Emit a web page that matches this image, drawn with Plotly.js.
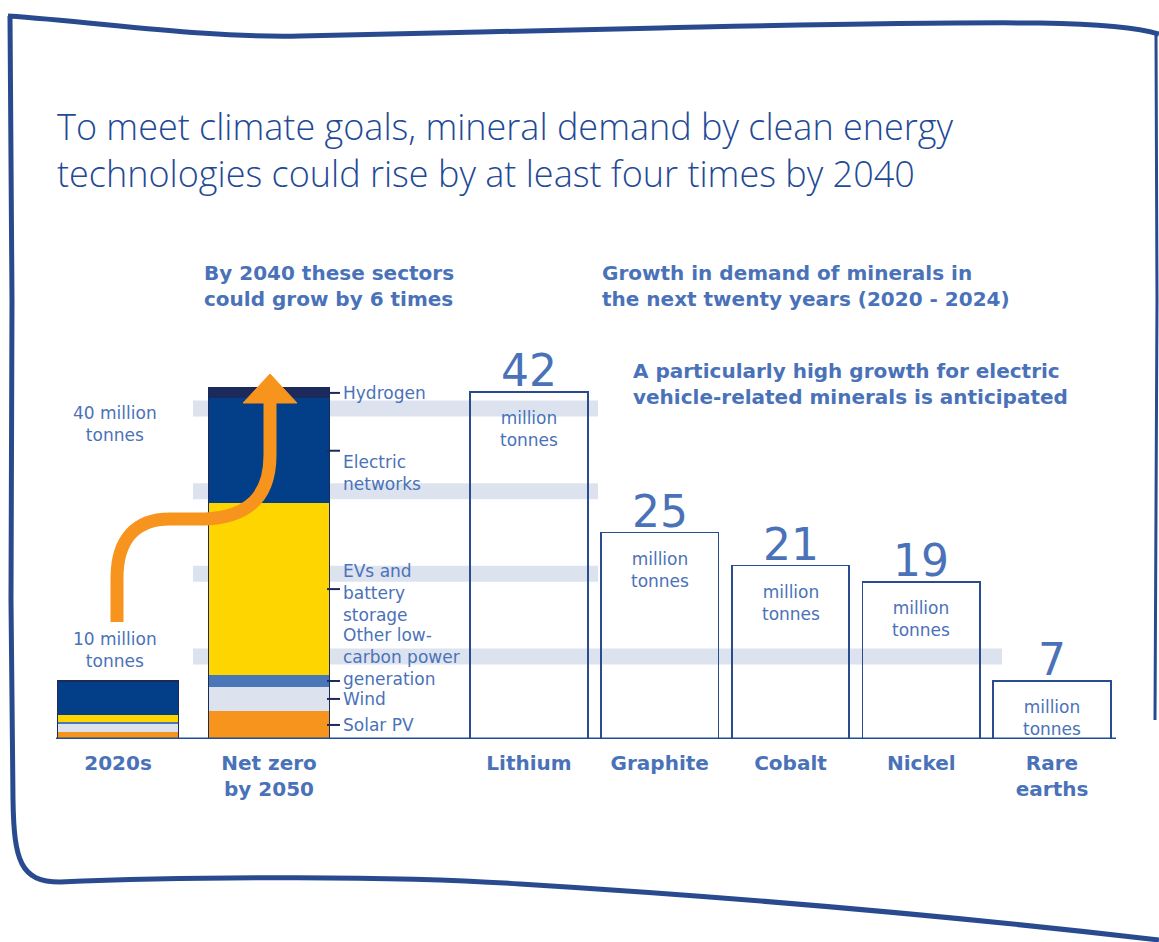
<!DOCTYPE html>
<html><head><meta charset="utf-8">
<script src="https://cdn.plot.ly/plotly-3.0.1.min.js"></script>
<style>html,body{margin:0;padding:0;background:#fff;} #chart{width:1159px;height:942px;}</style>
</head><body><div id="chart"></div>
<script>
// ---------------- DATA ----------------
const periodCats = ['2020s', 'Net zero<br>by 2050'];
const sectorNames = ['Solar PV', 'Wind', 'Other low-<br>carbon power<br>generation', 'EVs and<br>battery<br>storage', 'Electric<br>networks', 'Hydrogen'];
const sector2020s  = [0.85, 1.0, 0.25, 0.85, 4.1, 0];
const sectorNetZero = [3.4, 2.9, 1.45, 20.8, 12.7, 1.3];
const mineralCats = ['Lithium', 'Graphite', 'Cobalt', 'Nickel', 'Rare<br>earths'];
const mineralValues = [42, 25, 21, 19, 7];
const gridValues = [10, 20, 30, 40];
const gridLabels = ['10 million<br>tonnes', '', '', '40 million<br>tonnes'];
const unitLabel = 'million<br>tonnes';

// ---------------- STYLE ----------------
const W = 1159, H = 942;
const FONT = 'DejaVu Sans';
const TXT = '#4a72b8';
const NAVY = '#1b2a5a';
const sectorColors = ['#f7941d', '#dce3ef', '#4a77b8', '#ffd500', '#023f88', '#1b2a5a'];
const labelShift = [0, 0, 24, -4, -22, 0];
const gridShift = [6, 0, 0, -15];
const gridX1 = [1002, 598, 598, 598];
const px = x => x / W;
const py = y => 1 - y / H;
function pp(s) {
  const t = s.trim().split(/[\s,]+/); const out = []; let isX = true;
  for (const k of t) {
    if (/^[A-Za-z]$/.test(k)) { out.push(k); isX = true; }
    else { const v = parseFloat(k); out.push(isX ? (v / W).toFixed(5) : (1 - v / H).toFixed(5)); isX = !isX; }
  }
  return out.join(' ');
}
const PXU = 8.26; // pixels per million tonnes
const yMax = 739 / PXU;

const traces = [];
sectorNames.forEach((name, i) => {
  traces.push({
    type: 'bar', name: name.replace(/<br>/g, ' '), x: periodCats, y: [sector2020s[i], sectorNetZero[i]],
    xaxis: 'x', yaxis: 'y', width: 0.8,
    marker: { color: sectorColors[i], line: { width: 0 } },
    hoverinfo: 'skip', showlegend: false
  });
});
const totals = [sector2020s.reduce((a, b) => a + b, 0), sectorNetZero.reduce((a, b) => a + b, 0)];
traces.push({
  type: 'bar', x: periodCats, y: totals, xaxis: 'x3', yaxis: 'y', width: 0.8,
  marker: { color: 'rgba(0,0,0,0)', line: { color: NAVY, width: 1.6 } },
  hoverinfo: 'skip', showlegend: false
});
traces.push({
  type: 'bar', x: mineralCats, y: mineralValues, xaxis: 'x2', yaxis: 'y', width: 0.9,
  marker: { color: 'rgba(0,0,0,0)', line: { color: '#2b4b8f', width: 1.8 } },
  hoverinfo: 'skip', showlegend: false
});

const shapes = [];
gridValues.forEach((v, i) => {
  shapes.push({ type: 'line', layer: 'below', xref: 'paper', yref: 'y', x0: px(193), x1: px(gridX1[i]), y0: v, y1: v,
    line: { color: '#dce3ef', width: 16 } });
});
shapes.push({ type: 'line', layer: 'above', xref: 'paper', yref: 'y', x0: px(56), x1: px(1116), y0: 0, y1: 0,
  line: { color: '#1f4e96', width: 3 } });
const annotations = [];
let cum = 0;
sectorNetZero.forEach((v, i) => {
  const mid = cum + v / 2; cum += v;
  shapes.push({ type: 'line', xref: 'paper', yref: 'y', x0: px(327), x1: px(340), y0: mid, y1: mid,
    line: { color: NAVY, width: 2 } });
  annotations.push({ xref: 'paper', yref: 'y', x: px(341), y: mid, xanchor: 'left', yanchor: 'middle', yshift: labelShift[i],
    text: sectorNames[i], showarrow: false, align: 'left',
    font: { family: FONT, size: 17, color: TXT } });
});
const frameCol = '#2a4a90';
shapes.push({ type: 'path', xref: 'paper', yref: 'paper', layer: 'above',
  path: pp('M 8 16 C 100 22 200 38 300 36 C 420 34 540 30 660 28 C 800 25 920 22 1040 23 C 1100 24 1140 28 1159 34'),
  line: { color: frameCol, width: 5 } });
shapes.push({ type: 'path', xref: 'paper', yref: 'paper', layer: 'above',
  path: pp('M 10 16 L 12 300 L 11 600 L 13 800 C 14 860 20 882 60 882 C 200 876 400 876 520 884 C 700 895 900 910 1159 940'),
  line: { color: frameCol, width: 5 } });
shapes.push({ type: 'path', xref: 'paper', yref: 'paper', layer: 'above',
  path: pp('M 1156 34 L 1157 300 L 1155 720'),
  line: { color: frameCol, width: 3 } });
shapes.push({ type: 'path', xref: 'paper', yref: 'paper', layer: 'above',
  path: pp('M 117 622 L 117 578 C 117 540 135 519 170 519 L 205 519 C 250 517 270 495 270 455 L 270 400'),
  line: { color: '#f7941d', width: 13 } });
shapes.push({ type: 'path', xref: 'paper', yref: 'paper', layer: 'above',
  path: pp('M 243 403 L 297 403 L 270 374 Z'),
  fillcolor: '#f7941d', line: { color: '#f7941d', width: 1 } });

mineralCats.forEach((c, i) => {
  annotations.push({ xref: 'x2', yref: 'y', x: c, y: mineralValues[i], yanchor: 'bottom', yshift: -6,
    text: String(mineralValues[i]), showarrow: false, font: { family: FONT, size: 44, color: TXT } });
  annotations.push({ xref: 'x2', yref: 'y', x: c, y: mineralValues[i], yanchor: 'top', yshift: -14,
    text: unitLabel, showarrow: false, font: { family: FONT, size: 17, color: TXT } });
});
gridValues.forEach((v, i) => {
  if (!gridLabels[i]) return;
  annotations.push({ xref: 'paper', yref: 'y', x: px(115), y: v, xanchor: 'center', yanchor: 'middle', yshift: gridShift[i],
    text: gridLabels[i], showarrow: false, font: { family: FONT, size: 17, color: TXT } });
});
const heads = [
  ['By 2040 these sectors<br>could grow by 6 times', 202, 286],
  ['Growth in demand of minerals in<br>the next twenty years (2020 - 2024)', 600, 286],
  ['A particularly high growth for electric<br>vehicle-related minerals is anticipated', 631, 384]
];
heads.forEach(h => annotations.push({ xref: 'paper', yref: 'paper', x: px(h[1]), y: py(h[2]), xanchor: 'left', yanchor: 'middle',
  text: h[0], showarrow: false, align: 'left', font: { family: FONT, size: 20, color: TXT, weight: 700 } }));

const tickFont = { family: FONT, size: 20, color: TXT, weight: 700 };
const layout = {
  width: W, height: H, margin: { l: 0, r: 0, t: 0, b: 0 },
  paper_bgcolor: '#fff', plot_bgcolor: 'rgba(0,0,0,0)',
  barmode: 'stack', bargap: 0,
  showlegend: false,
  title: { text: 'To meet climate goals, mineral demand by clean energy<br>technologies could rise by at least four times by 2040',
    x: px(57), xanchor: 'left', y: py(140), yanchor: 'middle',
    font: { family: 'Open Sans', size: 36, color: '#1f4a96', weight: 300 } },
  xaxis: { domain: [px(42.5), px(344.5)], type: 'category', categoryarray: periodCats, range: [-0.5, 1.5],
    showgrid: false, zeroline: false, showline: false, ticks: '', tickfont: tickFont, ticklabelstandoff: 10, fixedrange: true },
  xaxis3: { overlaying: 'x', type: 'category', categoryarray: periodCats, range: [-0.5, 1.5], visible: false, fixedrange: true },
  xaxis2: { domain: [px(463.6), px(1117.4)], type: 'category', categoryarray: mineralCats, range: [-0.5, 4.5],
    showgrid: false, zeroline: false, showline: false, ticks: '', tickfont: tickFont, ticklabelstandoff: 10, fixedrange: true, anchor: 'y' },
  yaxis: { domain: [py(739), 1], range: [0, yMax], visible: false, fixedrange: true },
  shapes, annotations
};
Plotly.newPlot('chart', traces, layout, { displayModeBar: false, staticPlot: true });
</script></body></html>
